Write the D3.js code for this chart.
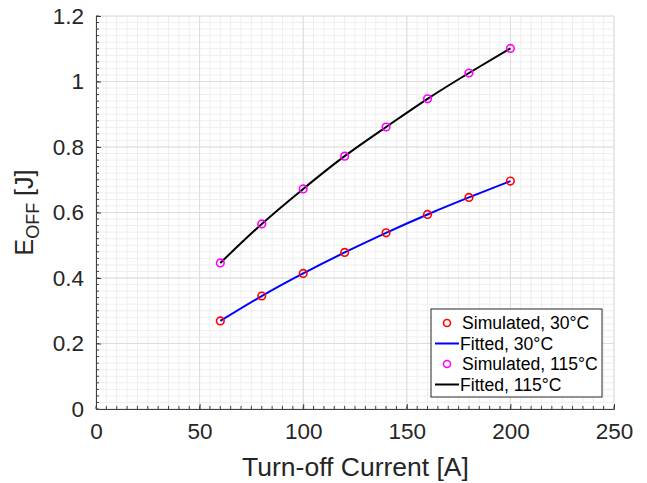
<!DOCTYPE html>
<html>
<head>
<meta charset="utf-8">
<script src="https://cdn.jsdelivr.net/npm/d3@7"></script>
<style>
  body { margin: 0; background: #fff; }
  text { font-family: "Liberation Sans", Arial, sans-serif; }
</style>
</head>
<body>
<script>
// data
var current = [60, 80, 100, 120, 140, 160, 180, 200];
var eoff30 = [0.269, 0.345, 0.414, 0.478, 0.538, 0.594, 0.646, 0.696];
var eoff115 = [0.446, 0.565, 0.672, 0.772, 0.861, 0.947, 1.026, 1.101];
var xTicks = [0, 50, 100, 150, 200, 250];
var yTicks = [0, 0.2, 0.4, 0.6, 0.8, 1, 1.2];
var legendLabels = ["Simulated, 30\u00b0C", "Fitted, 30\u00b0C", "Simulated, 115\u00b0C", "Fitted, 115\u00b0C"];

var W = 647, H = 483;
var m = {left: 96, right: 33, top: 16, bottom: 74};

var svg = d3.select("body").append("svg").attr("width", W).attr("height", H);

var x = d3.scaleLinear().domain([0, 250]).range([m.left, W - m.right]);
var y = d3.scaleLinear().domain([0, 1.2]).range([H - m.bottom, m.top]);

// minor grid
var xMinor = d3.range(0, 250.1, 5);
var yMinor = d3.range(0, 1.2001, 0.02);
svg.append("g").selectAll("line").data(xMinor).enter().append("line")
  .attr("x1", d => x(d)).attr("x2", d => x(d))
  .attr("y1", y(0)).attr("y2", y(1.2))
  .style("stroke", "#eeeeee").style("stroke-width", "1px");
svg.append("g").selectAll("line").data(yMinor).enter().append("line")
  .attr("x1", x(0)).attr("x2", x(250))
  .attr("y1", d => y(d)).attr("y2", d => y(d))
  .style("stroke", "#eeeeee").style("stroke-width", "1px");

// major grid
svg.append("g").selectAll("line").data(xTicks).enter().append("line")
  .attr("x1", d => x(d)).attr("x2", d => x(d))
  .attr("y1", y(0)).attr("y2", y(1.2))
  .style("stroke", "#dcdcdc").style("stroke-width", "1px");
svg.append("g").selectAll("line").data(yTicks).enter().append("line")
  .attr("x1", x(0)).attr("x2", x(250))
  .attr("y1", d => y(d)).attr("y2", d => y(d))
  .style("stroke", "#dcdcdc").style("stroke-width", "1px");

// axes, ticks inward
var xAxis = d3.axisBottom(x).tickValues(xTicks).tickSize(-5).tickPadding(12).tickFormat(d3.format("d"));
var yAxis = d3.axisLeft(y).tickValues(yTicks).tickSize(-5).tickPadding(12).tickFormat(d => d === 0 ? "0" : d3.format("")(d));

var gx = svg.append("g").attr("transform", "translate(0," + y(0) + ")").call(xAxis);
var gy = svg.append("g").attr("transform", "translate(" + x(0) + ",0)").call(yAxis);

// minor ticks
gx.append("g").selectAll("line").data(xMinor).enter().append("line")
  .attr("x1", d => x(d)).attr("x2", d => x(d)).attr("y1", 0).attr("y2", -3)
  .style("stroke", "#404040");
gy.append("g").selectAll("line").data(yMinor).enter().append("line")
  .attr("y1", d => y(d)).attr("y2", d => y(d)).attr("x1", 0).attr("x2", 3)
  .style("stroke", "#404040");

[gx, gy].forEach(function(g) {
  g.select(".domain").style("stroke", "#404040");
  g.selectAll(".tick line").style("stroke", "#404040");
  g.selectAll(".tick text").style("fill", "#262626").style("font-size", "22.5px")
    .style("font-family", "'Liberation Sans', Arial, sans-serif");
});
gx.selectAll(".tick text").attr("dy", "0.71em").attr("y", 14);

// axis labels
svg.append("text").attr("x", (x(0) + x(250)) / 2 + 0.5).attr("y", 476)
  .attr("text-anchor", "middle").style("font-size", "26.5px").style("fill", "#262626")
  .text("Turn-off Current [A]");

var yl = svg.append("text").attr("transform", "translate(33," + ((y(0) + y(1.2)) / 2) + ") rotate(-90)")
  .attr("text-anchor", "middle").style("font-size", "25px").style("fill", "#262626");
yl.append("tspan").text("E");
yl.append("tspan").attr("dy", 6).style("font-size", "18px").text("OFF");
yl.append("tspan").attr("dy", -6).text(" [J]");

// fitted lines
var line = d3.line().x(d => x(d[0])).y(d => y(d[1])).curve(d3.curveNatural);
svg.append("path").datum(d3.zip(current, eoff30)).attr("d", line)
  .style("fill", "none").style("stroke", "#0000ff").style("stroke-width", "2px");
svg.append("path").datum(d3.zip(current, eoff115)).attr("d", line)
  .style("fill", "none").style("stroke", "#000000").style("stroke-width", "2px");

// simulated points
svg.append("g").selectAll("circle").data(d3.zip(current, eoff30)).enter().append("circle")
  .attr("cx", d => x(d[0])).attr("cy", d => y(d[1])).attr("r", 3.8)
  .style("fill", "none").style("stroke", "#ff0000").style("stroke-width", "1.6px");
svg.append("g").selectAll("circle").data(d3.zip(current, eoff115)).enter().append("circle")
  .attr("cx", d => x(d[0])).attr("cy", d => y(d[1])).attr("r", 3.8)
  .style("fill", "none").style("stroke", "#ff00ff").style("stroke-width", "1.6px");

// legend
var lg = svg.append("g").attr("transform", "translate(431,309)");
lg.append("rect").attr("width", 171).attr("height", 88)
  .style("fill", "#fff").style("stroke", "#262626").style("stroke-width", "1px");
var lgKind = ["circle", "line", "circle", "line"];
var lgColor = ["#ff0000", "#0000ff", "#ff00ff", "#000000"];
legendLabels.forEach(function(t, i) {
  var cy = 14 + i * 20.5;
  if (lgKind[i] === "circle") {
    lg.append("circle").attr("cx", 16).attr("cy", cy).attr("r", 3.5)
      .style("fill", "none").style("stroke", lgColor[i]).style("stroke-width", "1.6px");
  } else {
    lg.append("line").attr("x1", 4).attr("x2", 28).attr("y1", cy).attr("y2", cy)
      .style("stroke", lgColor[i]).style("stroke-width", "2px");
  }
  lg.append("text").attr("x", i % 2 === 0 ? 31 : 29).attr("y", cy).attr("dy", "0.35em")
    .style("font-size", "17.6px").style("fill", "#000").text(t);
});
</script>
</body>
</html>
